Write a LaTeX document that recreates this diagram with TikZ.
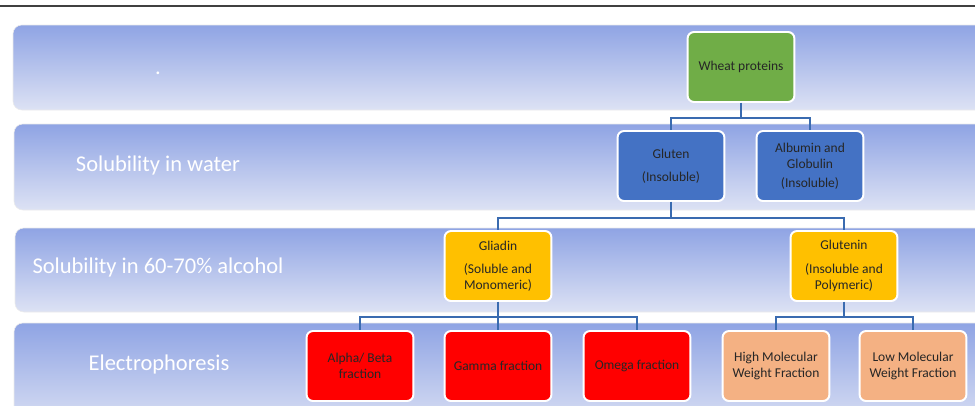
\documentclass[tikz,border=0pt]{standalone}
\usepackage{fontspec}
\setmainfont{Carlito}

\definecolor{bandtop}{HTML}{8FA4E4}
\definecolor{bandbot}{HTML}{DDE2F4}
\definecolor{linkblue}{HTML}{3A6BB0}
\definecolor{wheatgreen}{HTML}{70AD47}
\definecolor{glutenblue}{HTML}{4472C4}
\definecolor{gliadinyellow}{HTML}{FFC000}
\definecolor{fracred}{HTML}{FF0000}
\definecolor{fracsalmon}{HTML}{F4B183}

\begin{document}
\begin{tikzpicture}[x=0.25mm,y=-0.25mm,font=\fontsize{9.6}{11.5}\selectfont,
    band/.style={rounded corners=2.2mm,top color=bandtop,bottom color=bandbot,draw=white!92!black,line width=0.4pt},
    rowlabel/.style={text=white,font=\fontsize{16}{19}\selectfont},
    box/.style={draw=white,line width=1.4pt,rounded corners=1.6mm,minimum width=26.7mm,minimum height=17.5mm,align=center,text=black!85},
    link/.style={draw=linkblue,line width=1.6pt}]

            \useasboundingbox (0,0) rectangle (975,406);
            \clip (0,0) rectangle (975,406);

            \draw[line width=1.2pt,black!75] (0,6) -- (975,6);

            % rows
            \path[band] (13,25) rectangle (995,110);
            \path[band] (14,124) rectangle (995,210);
            \path[band] (15,228) rectangle (995,312);
            \path[band] (14,323) rectangle (995,430);

            \node[rowlabel] (blank) at (158,73) {.};
            \node[rowlabel] (water) at (158,166) {Solubility in water};
            \node[rowlabel] (alcohol) at (158,268) {Solubility in 60-70\% alcohol};
            \node[rowlabel] (electro) at (159,364) {Electrophoresis};

            % boxes
            \node[box,fill=wheatgreen] (wheat) at (741,67) {Wheat proteins};

            \node[box,fill=glutenblue] (gluten) at (671,166) {Gluten\\[5pt](Insoluble)};
            \node[box,fill=glutenblue] (albumin) at (810,166) {Albumin and\\Globulin\\[2pt](Insoluble)};

            \node[box,fill=gliadinyellow] (gliadin) at (498,266) {Gliadin\\[5pt](Soluble and\\Monomeric)};
            \node[box,fill=gliadinyellow] (glutenin) at (844,266) {Glutenin\\[5pt](Insoluble and\\Polymeric)};

            \node[box,fill=fracred] (alpha) at (360,366) {Alpha/ Beta\\fraction};
            \node[box,fill=fracred] (gamma) at (498,366) {Gamma fraction};
            \node[box,fill=fracred] (omega) at (637,366) {Omega fraction};
            \node[box,fill=fracsalmon] (hmw) at (776,366) {High Molecular\\Weight Fraction};
            \node[box,fill=fracsalmon] (lmw) at (913,366) {Low Molecular\\Weight Fraction};

            % links
            \draw[link] (wheat.south) -- ++(0,15) -| (gluten.north);
            \draw[link] (wheat.south) -- ++(0,15) -| (albumin.north);

            \draw[link] (gluten.south) -- ++(0,16) -| (gliadin.north);
            \draw[link] (gluten.south) -- ++(0,16) -| (glutenin.north);

            \draw[link] (gliadin.south) -- ++(0,15) -| (alpha.north);
            \draw[link] (gliadin.south) -- (gamma.north);
            \draw[link] (gliadin.south) -- ++(0,15) -| (omega.north);

            \draw[link] (glutenin.south) -- ++(0,15) -| (hmw.north);
            \draw[link] (glutenin.south) -- ++(0,15) -| (lmw.north);

        \end{tikzpicture}
\end{document}
